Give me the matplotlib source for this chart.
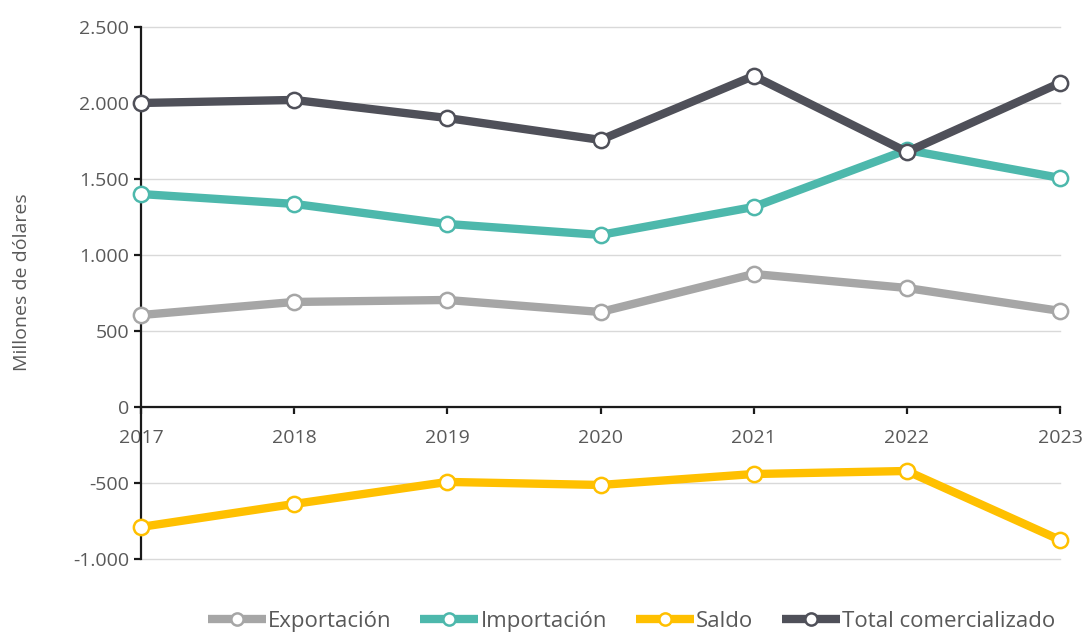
import matplotlib
matplotlib.use("Agg")
import matplotlib.pyplot as plt
import matplotlib.ticker as ticker

# ── data (millones de dólares) ───────────────────────────────────────────────
years = [2017, 2018, 2019, 2020, 2021, 2022, 2023]
exportacion = [605, 691, 704, 625, 875, 783, 632]
importacion = [1401, 1336, 1204, 1132, 1316, 1691, 1507]
saldo = [-789, -638, -493, -513, -441, -421, -875]
total = [2000, 2020, 1901, 1757, 2178, 1678, 2132]

series = [
    ("Exportación", exportacion, "#A6A6A6"),
    ("Importación", importacion, "#4DB8AC"),
    ("Saldo", saldo, "#FFC000"),
    ("Total comercializado", total, "#4F5059"),
]

TEXT_C = "#595959"
plt.rcParams["font.family"] = ["Open Sans", "DejaVu Sans"]

fig = plt.figure(figsize=(10.89, 6.35), dpi=100)
ax = fig.add_axes([0.1295, 0.1197, 0.8439, 0.8378])

for name, vals, col in series:
    ax.plot(years, vals, color=col, lw=6.0, marker="o", markersize=11,
            markerfacecolor="white", markeredgecolor=col, markeredgewidth=1.8,
            solid_capstyle="butt", clip_on=False, zorder=3, label=name)

ax.set_xlim(2017, 2023)
ax.set_ylim(-1000, 2500)
ax.yaxis.set_major_locator(ticker.MultipleLocator(500))
ax.yaxis.set_major_formatter(ticker.FuncFormatter(
    lambda v, p: f"{int(v):,}".replace(",", ".")))
ax.set_xticks(years)

ax.grid(axis="y", color="#D9D9D9", lw=1.0, clip_on=False)
ax.set_axisbelow(True)
for s in ["top", "right"]:
    ax.spines[s].set_visible(False)
ax.spines["bottom"].set_position(("data", 0))
ax.spines["bottom"].set_color("#1a1a1a")
ax.spines["left"].set_color("#1a1a1a")
ax.spines["bottom"].set_linewidth(1.6)
ax.spines["left"].set_linewidth(1.6)
ax.tick_params(axis="both", colors="#1a1a1a", labelcolor=TEXT_C,
               labelsize=14, length=5, width=1.6)
ax.tick_params(axis="x", pad=11)

ax.set_ylabel("Millones de dólares", fontsize=14, color=TEXT_C)
ax.yaxis.set_label_coords(-0.12, 0.52)

leg = fig.legend(loc="lower center", bbox_to_anchor=(0.58, -0.026), ncol=4,
                 frameon=False, fontsize=16, handlelength=2.6,
                 handletextpad=0.1, columnspacing=1.3, markerscale=0.8)
for t in leg.get_texts():
    t.set_color(TEXT_C)

fig.savefig("out.png", dpi=100)
